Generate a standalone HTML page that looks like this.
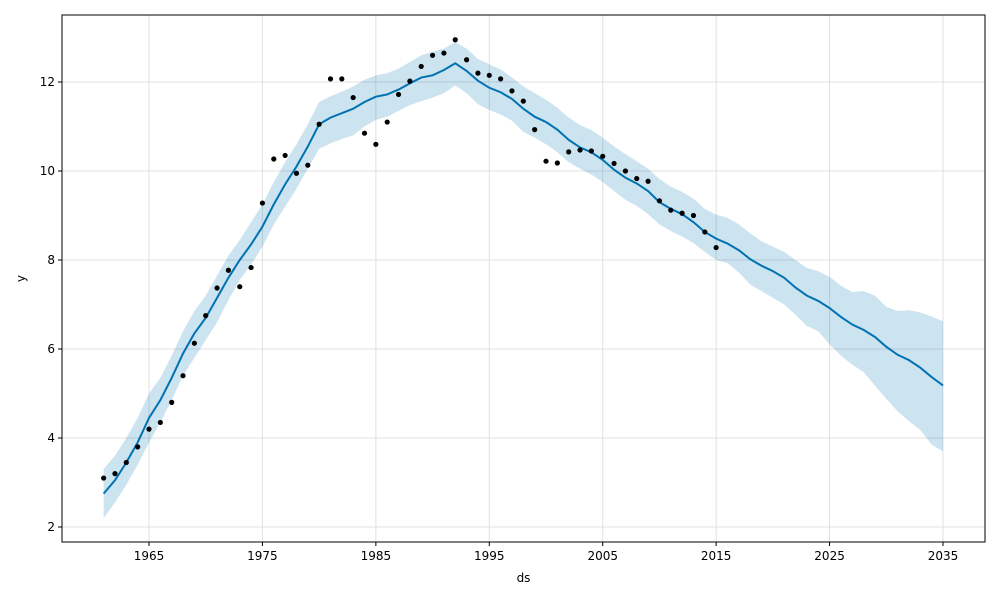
<!DOCTYPE html>
<html><head><meta charset="utf-8"><style>
body{margin:0;background:#fff;font-family:"Liberation Sans","DejaVu Sans",sans-serif}
svg text{font-family:"DejaVu Sans","Liberation Sans",sans-serif;font-size:12px;fill:#000}
</style></head><body>
<svg id="chart" width="1000" height="600" viewBox="0 0 1000 600"></svg>
<script>
const actualYears=[1961,1962,1963,1964,1965,1966,1967,1968,1969,1970,1971,1972,1973,1974,1975,1976,1977,1978,1979,1980,1981,1982,1983,1984,1985,1986,1987,1988,1989,1990,1991,1992,1993,1994,1995,1996,1997,1998,1999,2000,2001,2002,2003,2004,2005,2006,2007,2008,2009,2010,2011,2012,2013,2014,2015];
const actualValues=[3.1,3.2,3.45,3.8,4.2,4.35,4.8,5.4,6.13,6.75,7.37,7.77,7.4,7.83,9.28,10.27,10.35,9.95,10.13,11.05,12.07,12.07,11.65,10.85,10.6,11.1,11.72,12.02,12.35,12.6,12.65,12.95,12.5,12.2,12.15,12.07,11.8,11.57,10.93,10.22,10.18,10.43,10.47,10.45,10.33,10.17,10.0,9.83,9.77,9.33,9.12,9.05,9.0,8.63,8.28];
const forecastStartYear=1961;
const yhat=[2.75,3.05,3.45,3.9,4.45,4.85,5.35,5.9,6.35,6.7,7.15,7.6,8.0,8.35,8.75,9.25,9.7,10.1,10.55,11.05,11.2,11.3,11.4,11.55,11.67,11.72,11.83,11.97,12.1,12.15,12.27,12.42,12.25,12.03,11.87,11.77,11.62,11.4,11.22,11.1,10.93,10.7,10.53,10.42,10.25,10.03,9.85,9.72,9.55,9.3,9.15,9.03,8.85,8.63,8.48,8.37,8.22,8.02,7.87,7.75,7.6,7.38,7.2,7.08,6.92,6.72,6.55,6.43,6.27,6.05,5.87,5.75,5.58,5.37,5.18];
const yhatUpper=[3.3,3.6,4.0,4.45,5.0,5.35,5.85,6.4,6.85,7.2,7.65,8.1,8.45,8.85,9.25,9.75,10.2,10.6,11.05,11.55,11.68,11.78,11.9,12.05,12.15,12.2,12.3,12.45,12.6,12.68,12.75,12.9,12.75,12.52,12.4,12.28,12.1,11.9,11.75,11.6,11.42,11.2,11.03,10.92,10.75,10.55,10.38,10.22,10.05,9.82,9.65,9.53,9.38,9.15,9.02,8.95,8.8,8.6,8.42,8.3,8.18,8.0,7.82,7.75,7.62,7.42,7.28,7.3,7.2,6.95,6.85,6.87,6.82,6.73,6.62];
const yhatLower=[2.2,2.55,2.95,3.4,3.9,4.35,4.85,5.4,5.8,6.2,6.6,7.1,7.55,7.9,8.3,8.8,9.2,9.6,10.05,10.5,10.62,10.72,10.8,11.0,11.15,11.22,11.35,11.48,11.57,11.65,11.75,11.92,11.75,11.5,11.37,11.27,11.13,10.88,10.75,10.6,10.42,10.2,10.05,9.92,9.75,9.55,9.35,9.22,9.03,8.8,8.65,8.53,8.38,8.18,8.0,7.93,7.72,7.45,7.3,7.15,7.0,6.77,6.52,6.4,6.1,5.85,5.65,5.48,5.18,4.88,4.6,4.38,4.18,3.85,3.7];
const xTicks=[1965,1975,1985,1995,2005,2015,2025,2035];
const yTicks=[2,4,6,8,10,12];

const NS='http://www.w3.org/2000/svg';
const svg=document.getElementById('chart');
const L=62,R=985,T=15,B=542;
const xs=yr=>149+(yr-1965)*(943-149)/70;
const ys=v=>527-(v-2)*44.5;
function mk(tag,attrs,parent){const e=document.createElementNS(NS,tag);for(const k in attrs)e.setAttribute(k,attrs[k]);(parent||svg).appendChild(e);return e;}

const grid=mk('g',{});


xTicks.forEach(t=>{mk('line',{x1:xs(t),x2:xs(t),y1:T,y2:B,stroke:'#e0e0e0','stroke-width':1},grid);});
yTicks.forEach(t=>{mk('line',{x1:L,x2:R,y1:ys(t),y2:ys(t),stroke:'#e0e0e0','stroke-width':1},grid);});

let up=yhatUpper.map((v,i)=>xs(forecastStartYear+i)+','+ys(v));
let lo=yhatLower.map((v,i)=>xs(forecastStartYear+i)+','+ys(v)).reverse();
const band=mk('polygon',{points:up.concat(lo).join(' '),fill:'#0072B2','fill-opacity':0.2,stroke:'none'});



const line=mk('polyline',{points:yhat.map((v,i)=>xs(forecastStartYear+i)+','+ys(v)).join(' '),fill:'none',stroke:'#0072B2','stroke-width':2});



const pts=mk('g',{});


actualValues.forEach((v,i)=>{const c=mk('circle',{cx:xs(actualYears[i]),cy:ys(v),r:2.6,fill:'#000'},pts);

});

const frame=mk('rect',{x:L,y:T,width:R-L,height:B-T,fill:'none',stroke:'#000','stroke-width':1});



xTicks.forEach(t=>{mk('line',{x1:xs(t),x2:xs(t),y1:B,y2:B+4,stroke:'#000'});
const tx=mk('text',{x:xs(t),y:B+18,'text-anchor':'middle'});tx.textContent=t;

});
yTicks.forEach(t=>{mk('line',{x1:L-4,x2:L,y1:ys(t),y2:ys(t),stroke:'#000'});
const tx=mk('text',{x:L-7,y:ys(t)+4,'text-anchor':'end'});tx.textContent=t;

});

const xt=mk('text',{x:(L+R)/2,y:582,'text-anchor':'middle'});xt.textContent='ds';


const yt=mk('text',{x:25,y:(T+B)/2,'text-anchor':'middle',transform:'rotate(-90 25 '+((T+B)/2)+')'});yt.textContent='y';


</script>
</body></html>
